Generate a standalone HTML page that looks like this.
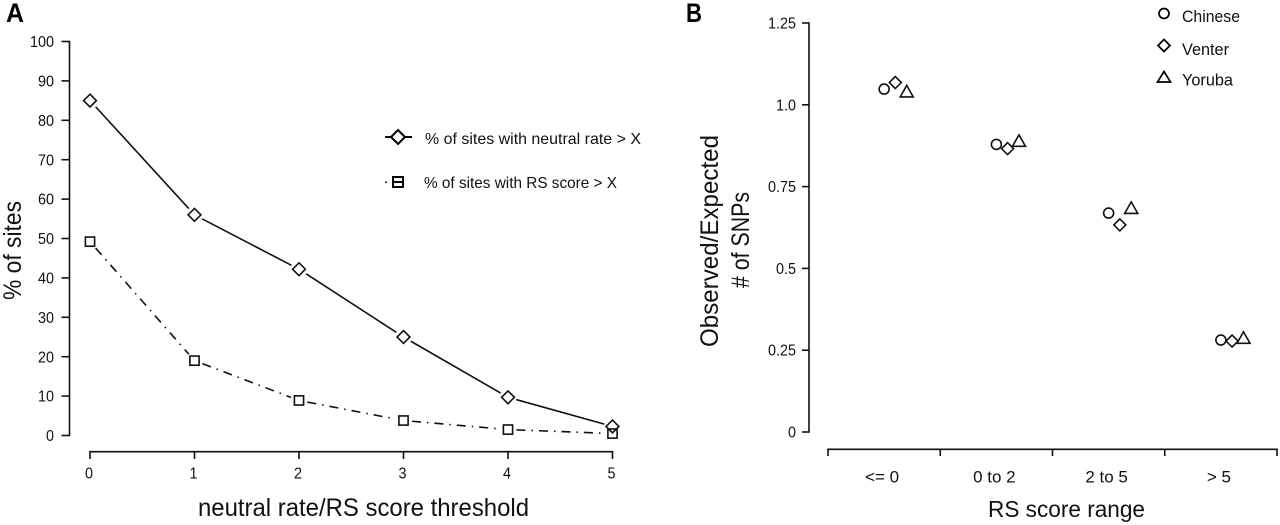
<!DOCTYPE html>
<html lang="en">
<head>
<meta charset="utf-8">
<title>Neutral rate and RS score charts</title>
<style>
html,body{margin:0;padding:0;background:#fff;width:1280px;height:525px;overflow:hidden}
svg{display:block;filter:blur(0.25px)}
text{font-family:"Liberation Sans",sans-serif;fill:#111}
</style>
</head>
<body>
<svg id="chart" xmlns="http://www.w3.org/2000/svg" width="1280" height="525" viewBox="0 0 1280 525">
  <g id="panel-a">
    <text x="6" y="22" font-size="27" font-weight="bold" style="fill:#000" textLength="18" lengthAdjust="spacingAndGlyphs">A</text>
    <text transform="translate(21,300) rotate(-90)" font-size="25" textLength="99" lengthAdjust="spacingAndGlyphs">% of sites</text>
    <text x="198" y="516" font-size="25" textLength="331" lengthAdjust="spacingAndGlyphs">neutral rate/RS score threshold</text>
    <g>
      <line x1="385" y1="137" x2="412" y2="137" stroke="#000" stroke-width="2"/>
      <polygon points="398,130 405,137 398,144 391,137" fill="#fff" stroke="#000" stroke-width="2"/>
      <text x="425" y="144" font-size="16" textLength="216" lengthAdjust="spacingAndGlyphs">% of sites with neutral rate &gt; X</text>
      <rect x="385.2" y="181.5" width="1.6" height="1.6" fill="#000"/>
      <rect x="393" y="177" width="10" height="10" fill="#fff" stroke="#000" stroke-width="2"/>
      <line x1="393" y1="182" x2="403" y2="182" stroke="#000" stroke-width="2"/>
      <text x="424" y="188" font-size="16" textLength="193" lengthAdjust="spacingAndGlyphs">% of sites with RS score &gt; X</text>
    </g>
  </g>
  <g id="panel-b">
    <text x="686" y="22" font-size="27" font-weight="bold" style="fill:#000" textLength="16" lengthAdjust="spacingAndGlyphs">B</text>
    <text transform="translate(718,347) rotate(-90)" font-size="25" textLength="212" lengthAdjust="spacingAndGlyphs">Observed/Expected</text>
    <text transform="translate(749,288) rotate(-90)" font-size="25" textLength="96" lengthAdjust="spacingAndGlyphs"># of SNPs</text>
    <text x="988" y="517" font-size="23" textLength="157" lengthAdjust="spacingAndGlyphs">RS score range</text>
    <g>
      <circle cx="1164" cy="13.5" r="5" fill="none" stroke="#000" stroke-width="1.7"/>
      <text x="1182" y="22" font-size="16.5" textLength="58" lengthAdjust="spacingAndGlyphs">Chinese</text>
      <polygon points="1164,39.5 1170,45.5 1164,51.5 1158,45.5" fill="none" stroke="#000" stroke-width="1.7"/>
      <text x="1182" y="55" font-size="16.5" textLength="47" lengthAdjust="spacingAndGlyphs">Venter</text>
      <polygon points="1164,71.5 1170.5,82 1157.5,82" fill="none" stroke="#000" stroke-width="1.7"/>
      <text x="1182" y="85.5" font-size="16.5" textLength="51" lengthAdjust="spacingAndGlyphs">Yoruba</text>
    </g>
  </g>
</svg>
<script>
var aThresholds = [0, 1, 2, 3, 4, 5];
var aNeutral = [85, 56, 42.2, 25, 9.7, 2.3];
var aRsScore = [49.2, 19, 8.9, 3.8, 1.5, 0.5];
var aYTicks = [0, 10, 20, 30, 40, 50, 60, 70, 80, 90, 100];

var bCategories = ['<= 0', '0 to 2', '2 to 5', '> 5'];
var bChinese = [1.048, 0.879, 0.669, 0.281];
var bVenter = [1.068, 0.866, 0.633, 0.278];
var bYoruba = [1.04, 0.889, 0.684, 0.287];
var bYTicks = [0, 0.25, 0.5, 0.75, 1.0, 1.25];
var bYTickLabels = ['0', '0.25', '0.5', '0.75', '1.0', '1.25'];

function xA(v) { return 90 + v * 104.5; }
function yA(v) { return 435.5 - v * 3.94; }
function xB(i) { return 828 + (i + 0.5) * 112.25; }
function yB(v) { return 432 - v * 327.2; }

var NS = 'http://www.w3.org/2000/svg';
var panelA = document.getElementById('panel-a');
var panelB = document.getElementById('panel-b');

function mk(parent, tag, attrs, txt) {
  var el = document.createElementNS(NS, tag);
  for (var k in attrs) { el.setAttribute(k, attrs[k]); }
  if (txt !== undefined) { el.textContent = txt; }
  parent.appendChild(el);
  return el;
}
function squeeze(t, f) {
  t.setAttribute('textLength', t.getComputedTextLength() * f);
  t.setAttribute('lengthAdjust', 'spacingAndGlyphs');
}
var axisStyle = { stroke: '#111', 'stroke-width': 1.6, fill: 'none' };
function withStyle(o, s) { for (var k in s) { o[k] = s[k]; } return o; }

var el, i, j;

/* Panel A axes */
el = mk(panelA, 'line', withStyle({ x1: 69.5, y1: yA(100) - 0.8, x2: 69.5, y2: yA(0) + 0.8 }, axisStyle));


aYTicks.forEach(function (t) {
  var tick = mk(panelA, 'line', withStyle({ x1: 61.5, y1: yA(t), x2: 69.5, y2: yA(t) }, axisStyle));
  
  
  var lab = mk(panelA, 'text', { x: 54, y: yA(t) + 5.6, 'text-anchor': 'end', 'font-size': 16 }, String(t));
  
  
  squeeze(lab, 0.9);
});
el = mk(panelA, 'line', withStyle({ x1: xA(0) - 0.8, y1: 451.7, x2: xA(5) + 0.8, y2: 451.7 }, axisStyle));


aThresholds.forEach(function (t) {
  var tick = mk(panelA, 'line', withStyle({ x1: xA(t), y1: 451.7, x2: xA(t), y2: 459 }, axisStyle));
  
  
  var lab = mk(panelA, 'text', { x: xA(t) - 1, y: 478.5, 'text-anchor': 'middle', 'font-size': 16 }, String(t));
  
  
  squeeze(lab, 0.9);
});

/* Panel A series: lines stop short of each marker */
function segment(x1, y1, x2, y2, dash, name) {
  var dx = x2 - x1, dy = y2 - y1, d = Math.sqrt(dx * dx + dy * dy), gap = 8.5;
  var a = { x1: x1 + dx / d * gap, y1: y1 + dy / d * gap, x2: x2 - dx / d * gap, y2: y2 - dy / d * gap, stroke: '#111', 'stroke-width': 1.6 };
  if (dash) { a['stroke-dasharray'] = dash; }
  var s = mk(panelA, 'line', a);
  
  
}
for (i = 0; i < aThresholds.length - 1; i++) {
  segment(xA(aThresholds[i]), yA(aNeutral[i]), xA(aThresholds[i + 1]), yA(aNeutral[i + 1]), null, 'neutral-rate-line');
  segment(xA(aThresholds[i]), yA(aRsScore[i]), xA(aThresholds[i + 1]), yA(aRsScore[i + 1]), '9 6 1.5 6', 'rs-score-line');
}
aThresholds.forEach(function (t, n) {
  var cx = xA(t), cy = yA(aRsScore[n]), h = 4.6;
  var sq = mk(panelA, 'rect', { x: cx - h, y: cy - h, width: 2 * h, height: 2 * h, fill: 'none', stroke: '#111', 'stroke-width': 1.6 });
  
  
});
aThresholds.forEach(function (t, n) {
  var cx = xA(t), cy = yA(aNeutral[n]), h = 6.4;
  var dm = mk(panelA, 'polygon', { points: cx + ',' + (cy - h) + ' ' + (cx + h) + ',' + cy + ' ' + cx + ',' + (cy + h) + ' ' + (cx - h) + ',' + cy, fill: 'none', stroke: '#111', 'stroke-width': 1.6 });
  
  
});

/* Panel B axes */
el = mk(panelB, 'line', withStyle({ x1: 809, y1: yB(1.25) - 0.8, x2: 809, y2: yB(0) + 0.8 }, axisStyle));


bYTicks.forEach(function (t, n) {
  var tick = mk(panelB, 'line', withStyle({ x1: 802, y1: yB(t), x2: 809, y2: yB(t) }, axisStyle));
  
  
  var lab = mk(panelB, 'text', { x: 796, y: yB(t) + 5.5, 'text-anchor': 'end', 'font-size': 16 }, bYTickLabels[n]);
  
  
  squeeze(lab, 0.9);
});
el = mk(panelB, 'line', withStyle({ x1: 827.2, y1: 449.3, x2: 828 + 4 * 112.25 + 0.8, y2: 449.3 }, axisStyle));


for (i = 0; i <= bCategories.length; i++) {
  el = mk(panelB, 'line', withStyle({ x1: xB(i - 0.5), y1: 449.3, x2: xB(i - 0.5), y2: 456 }, axisStyle));
  
  
}
bCategories.forEach(function (c, n) {
  var lab = mk(panelB, 'text', { x: xB(n) - 2, y: 482.5, 'text-anchor': 'middle', 'font-size': 17 }, c);
  
  
});

/* Panel B points */
var markStyle = { fill: 'none', stroke: '#111', 'stroke-width': 1.6 };
bCategories.forEach(function (c, n) {
  var x0 = xB(n);
  var circ = mk(panelB, 'circle', withStyle({ cx: x0, cy: yB(bChinese[n]), r: 5 }, markStyle));
  
  
  var dx = x0 + 11.2, dy = yB(bVenter[n]), h = 6;
  var dia = mk(panelB, 'polygon', withStyle({ points: dx + ',' + (dy - h) + ' ' + (dx + h) + ',' + dy + ' ' + dx + ',' + (dy + h) + ' ' + (dx - h) + ',' + dy }, markStyle));
  
  
  var tx = x0 + 22.6, ty = yB(bYoruba[n]);
  var tri = mk(panelB, 'polygon', withStyle({ points: tx + ',' + (ty - 6.3) + ' ' + (tx + 6.5) + ',' + (ty + 5.2) + ' ' + (tx - 6.5) + ',' + (ty + 5.2) }, markStyle));
  
  
});
</script>
</body>
</html>
